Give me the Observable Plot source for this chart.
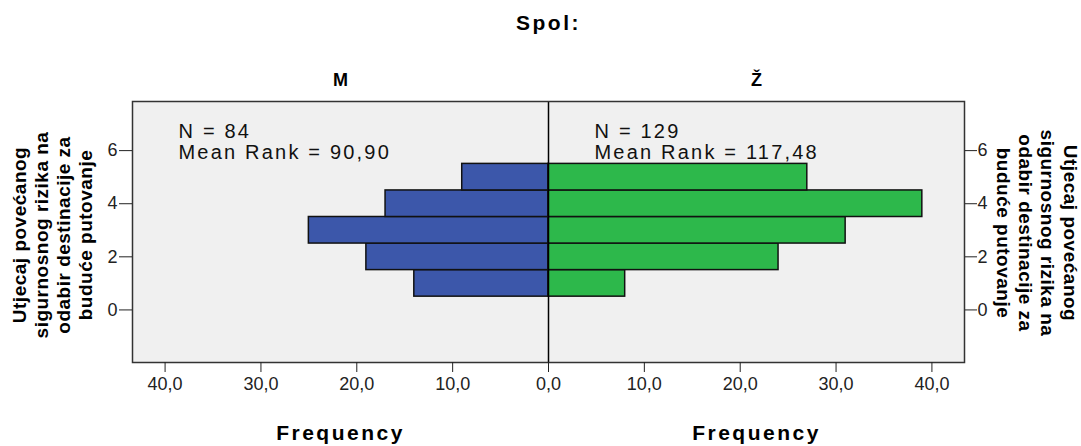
<!DOCTYPE html>
<html><head><meta charset="utf-8">
<script src="https://cdn.jsdelivr.net/npm/d3@7"></script>
<script src="https://cdn.jsdelivr.net/npm/@observablehq/plot@0.6"></script>
<style>body{margin:0;background:#fff} svg{display:block}</style>
</head><body><div id="chart"></div>
<script>
const title = "Spol:";
const groups = ["M", "Ž"];
const categories = [1, 2, 3, 4, 5];
const countsM = [14, 19, 25, 17, 9];
const countsZ = [8, 24, 31, 39, 27];
const nValues = [84, 129];
const meanRanks = ["90,90", "117,48"];
const xTicks = [-40, -30, -20, -10, 0, 10, 20, 30, 40];
const yTicks = [0, 2, 4, 6];
const xTitle = "Frequency";
const yTitle = "Utjecaj povećanog\nsigurnosnog rizika na\nodabir destinacije za\nbuduće putovanje";
const colors = ["#3c57aa", "#2db84b"];

const xMax = 43.4;
const bars = [
  ...categories.map((c, i) => ({group: groups[0], cat: c, value: -countsM[i]})),
  ...categories.map((c, i) => ({group: groups[1], cat: c, value: countsZ[i]}))
];
const panels = groups.map((g, i) => ({group: g, side: i === 0 ? -1 : 1, n: nValues[i], mr: meanRanks[i]}));

const plot = Plot.plot({
  width: 1081, height: 446,
  marginLeft: 132, marginRight: 117, marginTop: 101, marginBottom: 84,
  style: {fontFamily: "'Liberation Sans', Arial, sans-serif", background: "#fff", color: "#000", overflow: "visible"},
  x: {domain: [-xMax, xMax]},
  y: {domain: [-1.98, 7.85]},
  color: {domain: groups, range: colors},
  marks: [
    Plot.frame({fill: "#f0f0f0"}),
    Plot.rect(bars, {x1: 0, x2: "value", y1: d => d.cat - 0.5, y2: d => d.cat + 0.5, fill: "group", stroke: "#111", strokeWidth: 1.5}),
    Plot.ruleX([0], {stroke: "#000", strokeWidth: 1.5}),
    Plot.frame({stroke: "#333", strokeWidth: 1.5}),
    Plot.axisX({ticks: xTicks, tickSize: 10, tickPadding: 5, tickFormat: d => Math.abs(d).toFixed(1).replace(".", ","), fontSize: 18, label: null, color: "#222"}),
    Plot.axisY({anchor: "left", ticks: yTicks, tickSize: 13, tickPadding: 2, fontSize: 18, label: null, color: "#222"}),
    Plot.axisY({anchor: "right", ticks: yTicks, tickSize: 12, tickPadding: 1, fontSize: 18, label: null, color: "#222"}),
    Plot.text([yTitle], {text: d => d, frameAnchor: "left", dx: -81, dy: 3, rotate: -90, textAnchor: "middle", lineAnchor: "middle", lineHeight: 1.16, fontSize: 19, fontWeight: "bold", fill: "#000", ariaDescription: "ytitle"}),
    Plot.text([yTitle], {text: d => d, frameAnchor: "right", dx: 73, dy: 1, rotate: 90, textAnchor: "middle", lineAnchor: "middle", lineHeight: 1.16, fontSize: 19, fontWeight: "bold", fill: "#000", ariaDescription: "ytitle"}),
    Plot.text([title], {text: d => d, frameAnchor: "top", dy: -86, lineAnchor: "top", fontSize: 21, fontWeight: "bold", fill: "#000", ariaDescription: "spaced-title"}),
    Plot.text(panels, {x: d => d.side * xMax / 2, text: "group", frameAnchor: "top", dy: -28, lineAnchor: "top", fontSize: 18, fontWeight: "bold", fill: "#000"}),
    Plot.text(panels, {x: d => d.side * xMax / 2, text: () => xTitle, frameAnchor: "bottom", dy: 63, lineAnchor: "top", fontSize: 21, fontWeight: "bold", fill: "#000", ariaDescription: "spaced-title"}),
    Plot.text(panels, {x: d => d.side < 0 ? -xMax : 0, text: d => `N = ${d.n}\nMean Rank = ${d.mr}`, frameAnchor: "top", textAnchor: "start", dx: 46, dy: 22, lineAnchor: "top", lineHeight: 1.05, fontSize: 20, fill: "#111", ariaDescription: "annot"})
  ]
});
plot.querySelectorAll('g[aria-description="annot"] text').forEach(t => t.setAttribute("letter-spacing", "2.2"));
plot.querySelectorAll('g[aria-description="spaced-title"] text').forEach(t => t.setAttribute("letter-spacing", "2.5"));
plot.querySelectorAll('g[aria-description="ytitle"] text').forEach(t => t.setAttribute("letter-spacing", "0.5"));
document.getElementById("chart").appendChild(plot);
</script>
</body></html>
